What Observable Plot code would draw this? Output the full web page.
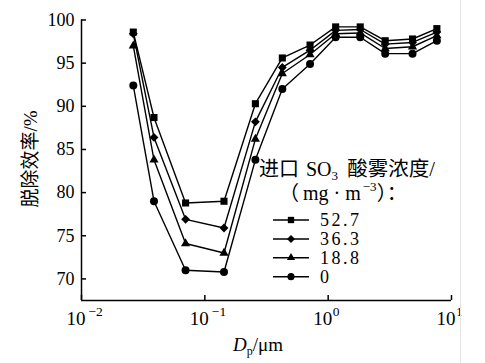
<!DOCTYPE html>
<html>
<head>
<meta charset="utf-8">
<script src="https://cdn.jsdelivr.net/npm/d3@7"></script>
<script src="https://cdn.jsdelivr.net/npm/@observablehq/plot@0.6"></script>
<style>
  html, body { margin: 0; padding: 0; background: #fff; }
  #chart { width: 485px; height: 363px; }
</style>
</head>
<body>
<div id="chart"></div>
<script>
// Particle diameter Dp (μm)
const sizes = [0.0263, 0.0387, 0.0698, 0.143, 0.257, 0.425, 0.713, 1.15, 1.82, 2.90, 4.83, 7.61];
// Removal efficiency (%) for each inlet SO3 acid mist concentration (mg·m^-3)
const eff527 = [98.6, 88.7, 78.8, 79.0, 90.3, 95.6, 97.1, 99.2, 99.2, 97.6, 97.8, 99.0];
const eff363 = [98.4, 86.4, 76.9, 75.9, 88.2, 94.5, 96.5, 98.8, 98.9, 97.2, 97.4, 98.6];
const eff188 = [97.0, 83.8, 74.1, 73.0, 86.2, 93.8, 96.0, 98.4, 98.5, 96.7, 96.9, 98.2];
const eff0   = [92.4, 79.0, 71.0, 70.8, 83.8, 92.0, 94.9, 98.0, 98.0, 96.1, 96.1, 97.6];
const seriesLabels = ["52.7", "36.3", "18.8", "0"];
const seriesValues = [eff527, eff363, eff188, eff0];
const symbols = ["square", "diamond2", "triangle", "circle"];
const symbolRadius = [4, 4, 3.4, 4];
const xTicks = [0.01, 0.1, 1, 10];
const yTicks = [70, 75, 80, 85, 90, 95, 100];
const xDomain = [0.01, 10];
const yDomain = [67.5, 100];

const data = seriesLabels.flatMap((label, k) =>
  sizes.map((x, i) => ({x, y: seriesValues[k][i], conc: label, r: symbolRadius[k]}))
);

const serif = "'Liberation Serif', 'DejaVu Serif', 'Noto Sans CJK SC', serif";
const W = 485, H = 363, mL = 81, mR = 34, mT = 19.5, mB = 63;
const tickLen = 5;

const plot = Plot.plot({
  width: W,
  height: H,
  marginLeft: mL,
  marginRight: mR,
  marginTop: mT,
  marginBottom: mB,
  style: {fontFamily: serif, fontSize: "18px", color: "black", background: "white"},
  x: {type: "log", domain: xDomain},
  y: {domain: yDomain},
  r: {type: "identity"},
  symbol: {domain: seriesLabels, range: symbols},
  marks: [
    Plot.ruleX([xDomain[0]], {stroke: "black", strokeWidth: 1.5}),
    Plot.ruleY([yDomain[0]], {stroke: "black", strokeWidth: 1.5}),
    // inward ticks
    Plot.tickX(xTicks, {x: d => d, stroke: "black", strokeWidth: 1.5, insetTop: (H - mT - mB) - tickLen}),
    Plot.tickY(yTicks, {y: d => d, stroke: "black", strokeWidth: 1.5, insetRight: (W - mL - mR) - tickLen}),
    Plot.axisY({ticks: yTicks, tickSize: 0, tickPadding: 7, fontSize: 18, label: null, tickFormat: d => String(d)}),
    Plot.axisX({ticks: xTicks, tickSize: 0, tickPadding: 10.5, fontSize: 19, label: null,
      tickFormat: d => String(Math.round(Math.log10(d)))}),
    Plot.line(data, {x: "x", y: "y", z: "conc", stroke: "black", strokeWidth: 1.4}),
    Plot.dot(data, {x: "x", y: "y", symbol: "conc", fill: "black", stroke: "none", r: "r"})
  ]
});

document.getElementById("chart").appendChild(plot);
const svg = d3.select(plot);

// superscript exponents on x tick labels
svg.selectAll('g[aria-label="x-axis tick label"] text').each(function() {
  const e = +this.textContent;
  const t = d3.select(this);
  t.text(null).attr("text-anchor", "start").attr("dx", -15);
  t.append("tspan").text("10");
  t.append("tspan")
    .attr("dy", -9)
    .attr("dx", e < 0 ? 3 : 0.5)
    .attr("font-size", 13.5)
    .text(e < 0 ? "\u2212" + Math.abs(e) : String(e));
});

// y title
svg.append("text")
  .attr("transform", "translate(33,159) rotate(-90)")
  .attr("text-anchor", "middle")
  .attr("dominant-baseline", "middle")
  .attr("font-size", 19)
  .attr("fill", "black")
  .text("脱除效率/%");

// x title
const xt = svg.append("text")
  .attr("x", 233).attr("y", 351)
  .attr("text-anchor", "start")
  .attr("font-size", 19)
  .attr("fill", "black");
xt.append("tspan").attr("font-style", "italic").text("D");
xt.append("tspan").attr("font-size", 12).attr("dy", 4).text("p");
xt.append("tspan").attr("dy", -4).text("/μm");

// legend title
const lt1 = svg.append("text").attr("x", 259).attr("y", 176).attr("text-anchor", "start").attr("font-size", 20).attr("fill", "black");
lt1.append("tspan").text("进口");
lt1.append("tspan").attr("dx", 2).text(" SO");
lt1.append("tspan").attr("font-size", 13).attr("dy", 4).text("3");
lt1.append("tspan").attr("dy", -4).attr("dx", 4).attr("font-size", 20.5).text(" 酸雾浓度/");
const lt2 = svg.append("text").attr("x", 279).attr("y", 200).attr("text-anchor", "start").attr("font-size", 20).attr("fill", "black");
lt2.append("tspan").text("（");
lt2.append("tspan").attr("dx", 4).text("mg · m");
lt2.append("tspan").attr("font-size", 13).attr("dy", -9).attr("dx", 2).text("\u22123");
lt2.append("tspan").attr("dy", 9).text("）：");

// legend entries
const symbolTypes = {square: d3.symbolSquare, diamond2: d3.symbolDiamond2, triangle: d3.symbolTriangle, circle: d3.symbolCircle};
seriesLabels.forEach((label, k) => {
  const y = [220, 239, 257.7, 276.7][k];
  const g = svg.append("g");
  g.append("line").attr("x1", 273).attr("x2", 309).attr("y1", y).attr("y2", y)
    .attr("stroke", "black").attr("stroke-width", 1.4);
  g.append("path")
    .attr("transform", `translate(291,${y})`)
    .attr("d", d3.symbol(symbolTypes[symbols[k]], Math.PI * symbolRadius[k] * symbolRadius[k] * 0.8)())
    .attr("fill", "black");
  g.append("text").attr("x", 320).attr("y", y).attr("dy", "0.35em")
    .attr("text-anchor", "start")
    .attr("font-size", 18).attr("letter-spacing", 2.5).attr("fill", "black").text(label);
});

// faint page edge
svg.append("line").attr("x1", 460.5).attr("x2", 460.5).attr("y1", 0).attr("y2", 363)
  .attr("stroke", "#e4e4e4").attr("stroke-width", 1);
</script>
</body>
</html>
